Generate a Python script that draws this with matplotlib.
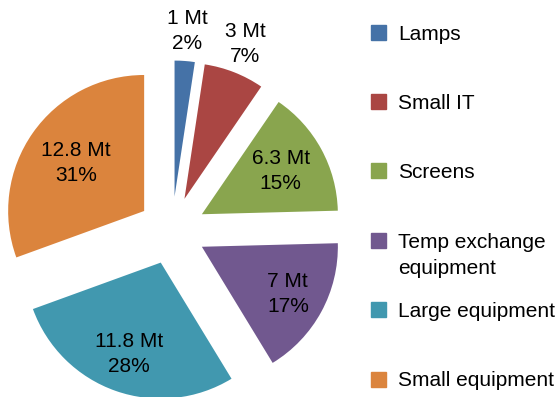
import numpy as np
import matplotlib.pyplot as plt
from matplotlib.patches import Rectangle

categories = ["Lamps", "Small IT", "Screens", "Temp exchange\nequipment",
              "Large equipment", "Small equipment"]
values = [1, 3, 6.3, 7, 11.8, 12.8]
value_labels = ["1 Mt", "3 Mt", "6.3 Mt", "7 Mt", "11.8 Mt", "12.8 Mt"]
pct_labels = ["2%", "7%", "15%", "17%", "28%", "31%"]
colors = ["#4572A7", "#AA4643", "#89A54E", "#71588F", "#4198AF", "#DB843D"]

plt.rcParams['font.family'] = ['Liberation Sans', 'DejaVu Sans']

W, H = 559, 397
fig = plt.figure(figsize=(W / 100, H / 100), dpi=100)
ax = fig.add_axes([0, 0, 1, 1])

wedges, _ = ax.pie(values, colors=colors, startangle=90, counterclock=False,
                   explode=[0.25] * len(values), radius=1)

# pixel mapping: pie centre at (172, 230.5), radius 136 px
r_px = 136
cx, cy = 172, 230.5
ax.set_xlim(-cx / r_px, (W - cx) / r_px)
ax.set_ylim(-(H - cy) / r_px, cy / r_px)
ax.set_aspect('auto')
ax.axis('off')

# distance of each label from its (exploded) wedge centre, in radii
label_dist = [1.22, 1.22, 0.66, 0.72, 0.71, 0.61]
for w, vl, pl, d in zip(wedges, value_labels, pct_labels, label_dist):
    mid = np.deg2rad((w.theta1 + w.theta2) / 2)
    x0, y0 = w.center
    ax.text(x0 + d * np.cos(mid), y0 + d * np.sin(mid), f"{vl}\n{pl}",
            ha='center', va='center', fontsize=15, linespacing=1.4,
            color='black')

# legend drawn in figure space
row0, step, line_h = 32, 69.4, 26
for i, (cat, col) in enumerate(zip(categories, colors)):
    yc = row0 + i * step
    fig.patches.append(Rectangle((371 / W, 1 - (yc + 7.5) / H), 15 / W, 15 / H,
                                 transform=fig.transFigure, color=col))
    for k, line in enumerate(cat.split("\n")):
        fig.text(398 / W, 1 - (yc + 7.5 + k * line_h) / H, line,
                 ha='left', va='baseline', fontsize=15)

fig.savefig("out.png", dpi=100)
